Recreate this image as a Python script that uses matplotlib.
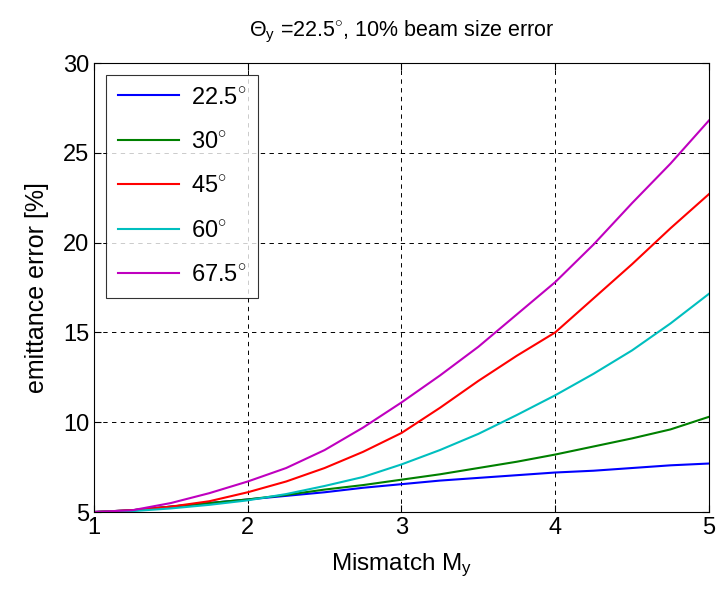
import matplotlib
matplotlib.use('Agg')
import matplotlib.pyplot as plt
import numpy as np

plt.rcParams['font.family'] = ['Liberation Sans', 'DejaVu Sans']
plt.rcParams['mathtext.fontset'] = 'custom'
plt.rcParams['mathtext.rm'] = 'Liberation Sans'
plt.rcParams['mathtext.it'] = 'Liberation Sans:italic'

# Mismatch values
mismatch = [1, 1.25, 1.5, 1.75, 2, 2.25, 2.5, 2.75, 3, 3.25, 3.5, 3.75, 4, 4.25, 4.5, 4.75, 5]

# emittance error [%] for each phase advance
err_225 = [5.0, 5.1, 5.3, 5.5, 5.7, 5.9, 6.1, 6.35, 6.55, 6.75, 6.9, 7.05, 7.2, 7.3, 7.45, 7.6, 7.7]
err_30 = [5.0, 5.1, 5.3, 5.5, 5.7, 5.95, 6.25, 6.5, 6.8, 7.1, 7.45, 7.8, 8.2, 8.65, 9.1, 9.6, 10.3]
err_45 = [5.0, 5.1, 5.3, 5.6, 6.1, 6.7, 7.45, 8.35, 9.4, 10.8, 12.3, 13.7, 15.0, 16.9, 18.8, 20.8, 22.7]
err_60 = [5.0, 5.05, 5.2, 5.4, 5.65, 6.0, 6.45, 6.95, 7.65, 8.45, 9.35, 10.4, 11.5, 12.7, 14.0, 15.5, 17.15]
err_675 = [5.0, 5.1, 5.5, 6.05, 6.7, 7.45, 8.45, 9.7, 11.1, 12.6, 14.2, 16.0, 17.8, 19.9, 22.2, 24.4, 26.8]

labels = ['22.5$^{\\circ}$', '30$^{\\circ}$', '45$^{\\circ}$', '60$^{\\circ}$', '67.5$^{\\circ}$']
colors = ['#0000ff', '#008000', '#ff0000', '#00bfbf', '#bf00bf']

fig = plt.figure(figsize=(7.26, 5.89), dpi=100)
ax = fig.add_axes([0.1295, 0.1307, 0.847, 0.7623])

for ys, lab, c in zip([err_225, err_30, err_45, err_60, err_675], labels, colors):
    ax.plot(mismatch, ys, color=c, linewidth=1.5, label=lab)

ax.set_xlim(1, 5)
ax.set_ylim(5, 30)
ax.set_xticks([1, 2, 3, 4, 5])
ax.set_yticks([5, 10, 15, 20, 25, 30])
ax.tick_params(direction='in', top=True, right=True, labelsize=17, length=5)
ax.grid(True, color='black', linestyle=(0, (4.5, 4.5)), linewidth=0.7)
for s in ax.spines.values():
    s.set_linewidth(0.8)

ax.set_xlabel('Mismatch M$_\\mathrm{y}$', fontsize=17.5, labelpad=9)
ax.set_ylabel('emittance error [%]', fontsize=18, labelpad=10)
ax.set_title('$\\mathrm{\\Theta_y}$ =22.5$^{\\circ}$, 10% beam size error', fontsize=15.5, pad=19)

leg = ax.legend(loc='upper left', fontsize=17, frameon=True, fancybox=False,
                edgecolor='black', handlelength=2.6, borderaxespad=0.5,
                labelspacing=0.95, handletextpad=0.5, borderpad=0.5)
leg.get_frame().set_linewidth(0.8)

fig.savefig('out.png', dpi=100)
